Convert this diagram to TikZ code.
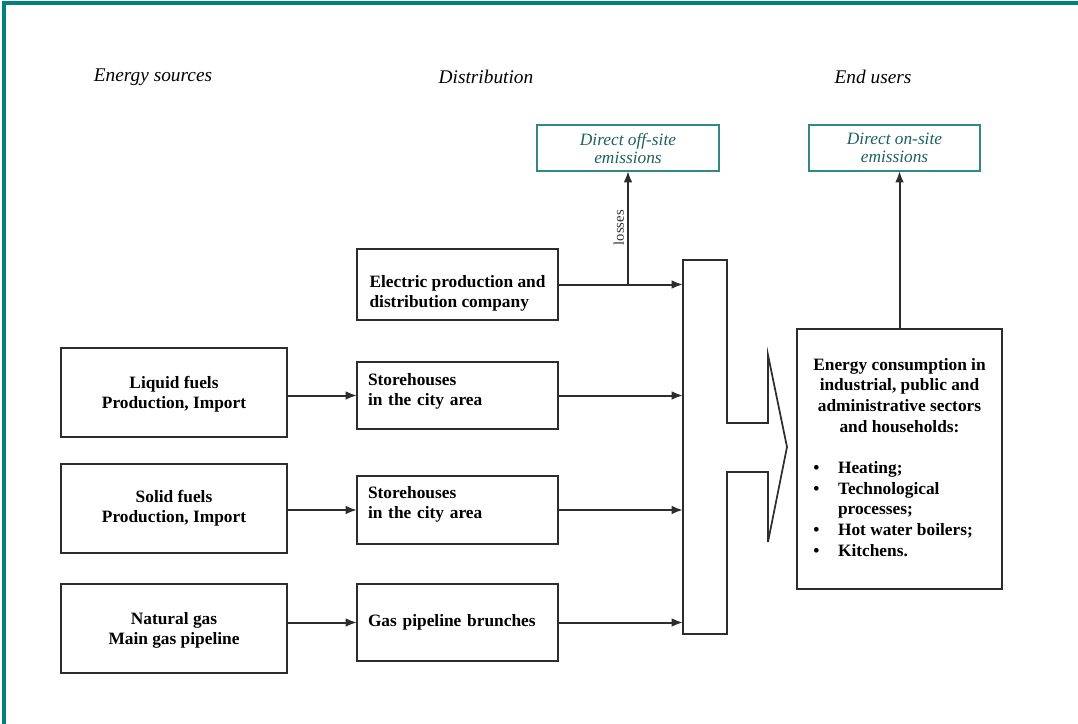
\documentclass[tikz,border=0pt]{standalone}
\usepackage{fontspec}
\setmainfont{Liberation Serif}
\usetikzlibrary{arrows.meta}
\definecolor{frameteal}{RGB}{0,128,128}
\definecolor{emline}{RGB}{50,135,135}
\definecolor{emtext}{RGB}{30,95,95}
\definecolor{ink}{RGB}{45,45,45}
\begin{document}
\begin{tikzpicture}[x=0.75pt,y=-0.75pt,
  every node/.style={inner sep=0pt, outer sep=0pt},
  boxfont/.style={font=\bfseries\fontsize{13}{15}\selectfont},
  srcbox/.style={draw=ink, line width=1.4pt, boxfont, align=center,
    minimum width=169.5pt, minimum height=66.75pt},
  distbox/.style={draw=ink, line width=1.4pt, boxfont, minimum width=150.75pt},
  embox/.style={draw=emline, line width=1pt, align=center, text=emtext,
    font=\itshape\fontsize{13}{13.5}\selectfont, minimum height=34.5pt},
  userbox/.style={draw=ink, line width=1.4pt, font=\bfseries\fontsize{13}{15.5}\selectfont,
    minimum width=153.75pt, minimum height=195pt},
  hdr/.style={font=\itshape\fontsize{14.5}{17}\selectfont},
  arr/.style={draw=ink, line width=1.5pt, -{Latex[length=8.5pt,width=6.5pt]}},
  lbl/.style={font=\fontsize{11}{13}\selectfont, text=ink}
]
\useasboundingbox (0,0) rectangle (1078,724);
% frame (top and left only)
\draw[frameteal, line width=2.6pt] (4,724) -- (4,3) -- (1078,3);

% headers
\node[hdr] (hsrc) at (153,77) {Energy sources};
\node[hdr] (hdist) at (486,77) {Distribution};
\node[hdr] (husers) at (873,77) {End users};

% emission boxes
\node[embox, minimum width=136.5pt] (offsite) at (628,148) {Direct off-site\\emissions};
\node[embox, minimum width=128.25pt] (onsite) at (894.5,148) {Direct on-site\\emissions};

% source boxes
\node[srcbox] (liquid) at (174,392.5) {\rule{0pt}{12pt}Liquid fuels\\Production, Import};
\node[srcbox] (solid) at (174,508.5) {Solid fuels\\Production, Import};
\node[srcbox] (natgas) at (174,628.5) {\rule{0pt}{12pt}Natural gas\\Main gas pipeline};

% distribution boxes
\node[distbox, align=left, minimum height=53.25pt] (elec) at (457.5,284.5)
  {\rule{0pt}{22pt}Electric production and\\distribution company};
\node[distbox, text width=134.25pt, align=left, minimum height=50.25pt] (store1) at (457.5,395.5)
  {Storehouses\\in the city area\rule[-9pt]{0pt}{1pt}};
\node[distbox, text width=134.25pt, align=left, minimum height=51pt] (store2) at (457.5,510)
  {Storehouses\\in the city area\rule[-12pt]{0pt}{1pt}};
\node[distbox, text width=134.25pt, align=left, minimum height=57.75pt] (gasbr) at (457.5,622.5)
  {Gas pipeline brunches};

% merging block (invisible node for connections) and its outline
\node[minimum width=33pt, minimum height=280.5pt] (merge) at (705,447) {};
\draw[ink, line width=1.3pt, line join=miter]
  (683,260) -- (727,260) -- (727,423) -- (768,423) -- (768,355) -- (787,447)
  -- (768,542) -- (768,472) -- (727,472) -- (727,634) -- (683,634) -- cycle;

% end users box
\node[userbox] (endusers) at (899.5,459) {%
\begin{tabular}{@{}l@{\hspace{14pt}}l@{}}
\multicolumn{2}{@{}c@{}}{Energy consumption in}\\
\multicolumn{2}{@{}c@{}}{industrial, public and}\\
\multicolumn{2}{@{}c@{}}{administrative sectors}\\
\multicolumn{2}{@{}c@{}}{and households:}\\[15.5pt]
\textbullet & Heating;\\
\textbullet & Technological\\
 & processes;\\
\textbullet & Hot water boilers;\\
\textbullet & Kitchens.
\end{tabular}};

% connectors
\draw[arr] (liquid.east |- store1.west) -- (store1.west);
\draw[arr] (solid.east |- store2.west) -- (store2.west);
\draw[arr] (natgas.east |- gasbr.west) -- (gasbr.west);

\draw[arr] (elec.east) -- (elec.east -| merge.west);
\draw[arr] (store1.east) -- (store1.east -| merge.west);
\draw[arr] (store2.east) -- (store2.east -| merge.west);
\draw[arr] (gasbr.east) -- (gasbr.east -| merge.west);

\coordinate (lossjoin) at (elec.east -| offsite.south);
\draw[arr] (lossjoin) -- node[lbl, sloped, above=3pt] {losses} (offsite.south);
\draw[arr] (endusers.north) -- (endusers.north |- onsite.south);
\end{tikzpicture}
\end{document}
